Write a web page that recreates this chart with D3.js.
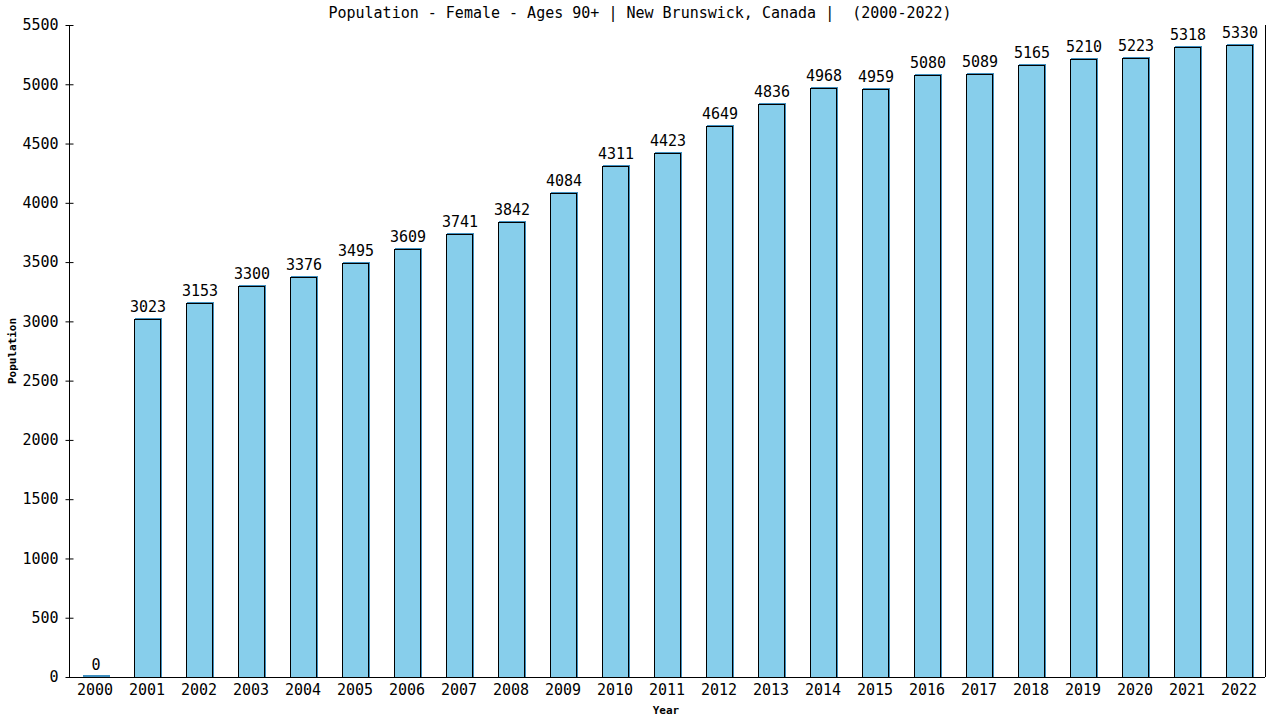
<!DOCTYPE html>
<html>
<head>
<meta charset="utf-8">
<script src="https://cdn.jsdelivr.net/npm/d3@7"></script>
<style>
  body { margin: 0; background: #fff; }
  text { font-family: "DejaVu Sans Mono", monospace; fill: #000; }
</style>
</head>
<body>
<div id="chart"></div>
<script>
const years = ["2000","2001","2002","2003","2004","2005","2006","2007","2008","2009","2010","2011","2012","2013","2014","2015","2016","2017","2018","2019","2020","2021","2022"]
const population = [0,3023,3153,3300,3376,3495,3609,3741,3842,4084,4311,4423,4649,4836,4968,4959,5080,5089,5165,5210,5223,5318,5330]
const yTicks = [0,500,1000,1500,2000,2500,3000,3500,4000,4500,5000,5500]
const title = "Population - Female - Ages 90+ | New Brunswick, Canada |  (2000-2022)"

const width = 1280
const height = 720
const margin = { top: 25, right: 15, bottom: 43, left: 69 }

const svg = d3.select("#chart")
    .append("svg")
    .attr("width", width)
    .attr("height", height)

const x = d3.scaleBand()
    .domain(years)
    .range([margin.left, width - margin.right])
    .paddingInner(0.5)
    .paddingOuter(0.25)

const y = d3.scaleLinear()
    .domain([0, 5500])
    .range([height - margin.bottom, margin.top])

const data = years.map((yr, i) => ({ year: yr, value: population[i] }))

// bars: a blue "shadow" nudged up/right, then the black outlined bar
const bars = svg.append("g")
bars.selectAll("rect.shadow")
    .data(data)
    .join("rect")
    .attr("class", "shadow")
    .attr("x", d => Math.round(x(d.year)) + 1.5)
    .attr("y", d => Math.min(Math.round(y(d.value)), y(0) - 1) - 0.5)
    .attr("width", Math.round(x.bandwidth()))
    .attr("height", d => Math.max(1, y(0) - Math.round(y(d.value))))
    .attr("fill", "#87ceeb")
    .attr("stroke", "#3f8fbf")
    .attr("stroke-width", 1)

bars.selectAll("rect.bar")
    .data(data.filter(d => d.value > 0))
    .join("rect")
    .attr("class", "bar")
    .attr("x", d => Math.round(x(d.year)) + 0.5)
    .attr("y", d => Math.round(y(d.value)) + 0.5)
    .attr("width", Math.round(x.bandwidth()))
    .attr("height", d => y(0) - Math.round(y(d.value)))
    .attr("fill", "#87ceeb")
    .attr("stroke", "#000")
    .attr("stroke-width", 1)

// value labels
svg.append("g")
    .selectAll("text")
    .data(data)
    .join("text")
    .attr("x", d => x(d.year) + x.bandwidth() / 2 + 1)
    .attr("y", d => y(d.value) - 7)
    .attr("text-anchor", "middle")
    .style("font-size", "15px")
    .text(d => d.value)

// y axis
const yAxis = svg.append("g")
    .attr("transform", `translate(${margin.left + 0.5},0)`)
    .call(d3.axisLeft(y).tickValues(yTicks).tickFormat(d3.format("d")).tickSize(4).tickPadding(7))
yAxis.select(".domain").attr("stroke", "#000").attr("d", `M0,${margin.top}V${y(0)}`)
yAxis.selectAll(".tick line").attr("x1", -4).attr("x2", 4).attr("stroke", "#000")
yAxis.selectAll(".tick text").style("font-size", "15px").style("font-family", "DejaVu Sans Mono, monospace")

// x axis
const xAxis = svg.append("g")
    .attr("transform", `translate(0,${y(0) + 0.5})`)
    .call(d3.axisBottom(x).tickSize(0).tickPadding(7))
xAxis.select(".domain").attr("stroke", "#000").attr("d", `M${margin.left},0H${width - margin.right}`)
xAxis.selectAll(".tick text").style("font-size", "15px").style("font-family", "DejaVu Sans Mono, monospace")

// right border
svg.append("line")
    .attr("x1", width - margin.right + 0.5)
    .attr("x2", width - margin.right + 0.5)
    .attr("y1", margin.top)
    .attr("y2", y(0))
    .attr("stroke", "#000")

// title + axis titles
svg.append("text")
    .attr("x", 640)
    .attr("y", 18)
    .attr("text-anchor", "middle")
    .style("font-size", "15px")
    .style("white-space", "pre")
    .attr("xml:space", "preserve")
    .text(title)

svg.append("text")
    .attr("x", 666)
    .attr("y", 714)
    .attr("text-anchor", "middle")
    .style("font-size", "11px")
    .style("font-weight", "bold")
    .text("Year")

svg.append("text")
    .attr("transform", `translate(16,${(margin.top + y(0)) / 2}) rotate(-90)`)
    .attr("text-anchor", "middle")
    .style("font-size", "11px")
    .style("font-weight", "bold")
    .text("Population")
</script>
</body>
</html>
